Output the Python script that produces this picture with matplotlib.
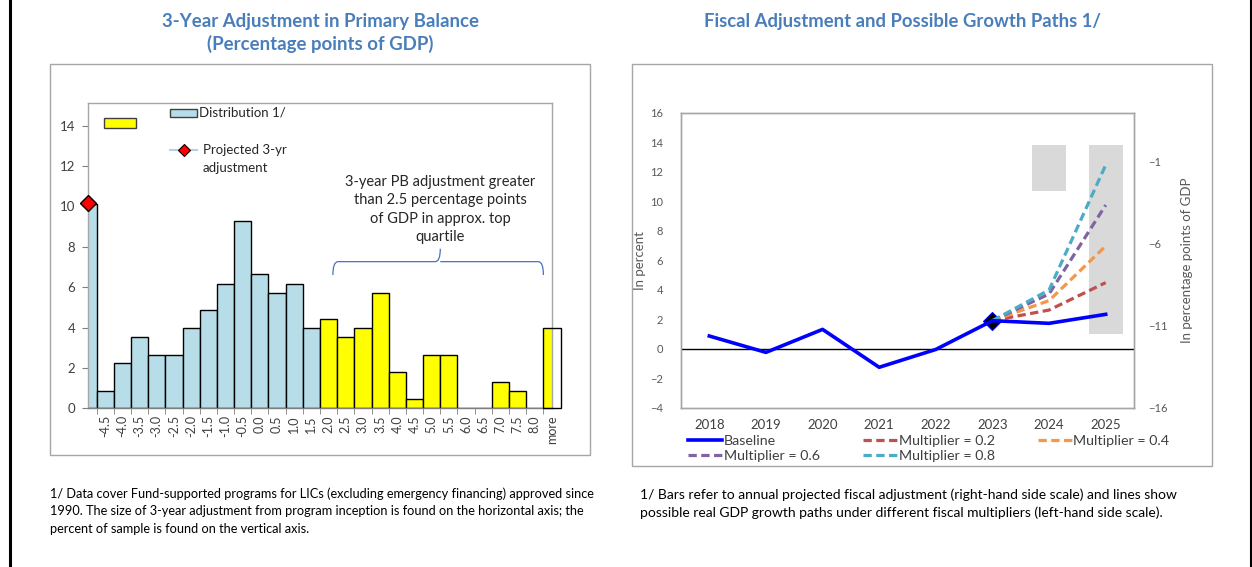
import matplotlib

matplotlib.use("Agg")

import matplotlib.pyplot as plt
import numpy as np
from matplotlib.lines import Line2D
from matplotlib.patches import PathPatch, Rectangle
from matplotlib.path import Path

W, H = 1252, 567
plt.rcParams["font.family"] = ["Lato", "DejaVu Sans"]

# ---- left panel: distribution of 3-year primary balance adjustments ----
BIN_LABELS = ["-5.0", "-4.5", "-4.0", "-3.5", "-3.0", "-2.5", "-2.0", "-1.5", "-1.0",
              "-0.5", "0.0", "0.5", "1.0", "1.5", "2.0", "2.5", "3.0", "3.5", "4.0",
              "4.5", "5.0", "5.5", "6.0", "6.5", "7.0", "7.5", "8.0", "more"]
DIST_LOW = [10.1, 0.87, 2.22, 3.51, 2.65, 2.65, 4.0, 4.86, 6.14, 9.25, 6.64, 5.72, 6.14, 4.0]
DIST_TOP = [4.43, 3.51, 4.0, 5.72, 1.78, 0.44, 2.65, 2.65, 0.0, 0.0, 1.30, 0.87, 0.0, 4.0]
PROJECTED_BIN = 0
PROJECTED_VALUE = 10.15

# ---- right panel: fiscal adjustment and growth paths ----
YEARS = ["2018", "2019", "2020", "2021", "2022", "2023", "2024", "2025"]
BASELINE = [0.86, -0.25, 1.31, -1.26, -0.05, 1.9, 1.72, 2.33]
PATH_YEARS = ["2023", "2024", "2025"]
MULT_02 = [1.9, 2.62, 4.48]
MULT_04 = [1.9, 3.26, 6.96]
MULT_06 = [1.9, 3.71, 9.74]
MULT_08 = [1.9, 3.98, 12.45]
ADJ_YEARS = ["2024", "2025"]
ADJUSTMENT = [-2.8, -11.5]

BLUE_TITLE = "#4A7EBB"
LIGHT_BLUE = "#B7DEE8"
YELLOW = "#FFFF00"
GRID_GREY = "#A6A6A6"
TEXT_GREY = "#404040"


def fx(x):
    return x / W


def fy(y):
    return 1.0 - y / H


def px_axes(fig, left, top, right, bottom):
    return fig.add_axes([fx(left), fy(bottom), (right - left) / W, (bottom - top) / H])


fig = plt.figure(figsize=(W / 100, H / 100), dpi=100)

# page borders and panel frames
fig.add_artist(Line2D([fx(10), fx(10)], [0, 1], color="black", lw=2.2))
fig.add_artist(Line2D([fx(1250.5), fx(1250.5)], [0, 1], color="black", lw=1.5))
fig.add_artist(Rectangle((fx(50), fy(455)), (590 - 50) / W, (455 - 64) / H,
                         transform=fig.transFigure, fill=False, ec=GRID_GREY, lw=1.0))
fig.add_artist(Rectangle((fx(632), fy(466)), (1212 - 632) / W, (466 - 64) / H,
                         transform=fig.transFigure, fill=False, ec=GRID_GREY, lw=1.0))

# titles
fig.text(fx(320), fy(21), "3-Year Adjustment in Primary Balance", ha="center", va="center",
         fontsize=13.4, fontweight="bold", color=BLUE_TITLE)
fig.text(fx(320), fy(44), "(Percentage points of GDP)", ha="center", va="center",
         fontsize=13.4, fontweight="bold", color=BLUE_TITLE)
fig.text(fx(903), fy(21), "Fiscal Adjustment and Possible Growth Paths 1/", ha="center",
         va="center", fontsize=13.3, fontweight="bold", color=BLUE_TITLE)

# ---------------- left panel ----------------
ax = px_axes(fig, 88, 103.3, 552, 408.3)
n_low = len(DIST_LOW)
x_low = np.arange(n_low)
x_top = np.arange(n_low, n_low + len(DIST_TOP))
bw = 1.0
ax.bar(x_low, DIST_LOW, width=bw, color=LIGHT_BLUE, edgecolor="black", lw=1.0, zorder=2)
ax.bar(x_top[:-1], DIST_TOP[:-1], width=bw, color=YELLOW, edgecolor="black", lw=1.0, zorder=2)
# the open-ended "more" bin sits on the right edge of the plot area
last_x, last_v = x_top[-1], DIST_TOP[-1]
ax.bar(last_x - bw / 4, last_v, width=bw / 2, color=YELLOW, lw=0, zorder=2, clip_on=False)
ax.bar(last_x + bw / 4, last_v, width=bw / 2, color="white", lw=0, zorder=2, clip_on=False)
ax.bar(last_x, last_v, width=bw, fill=False, edgecolor="black", lw=1.0, zorder=3, clip_on=False)
ax.plot([PROJECTED_BIN], [PROJECTED_VALUE], marker="D", ms=8, mfc="#FF0000", mec="black",
        mew=1.0, ls="none", zorder=5, clip_on=False)

ax.set_xlim(0, len(BIN_LABELS) - 1)
ax.set_ylim(0, 15.1)
ax.set_yticks(np.arange(0, 15, 2))
ax.set_xticks(np.arange(1, len(BIN_LABELS)))
ax.set_xticklabels(BIN_LABELS[1:], rotation=90, fontsize=9, color=TEXT_GREY)
ax.set_xticks(np.arange(0.5, len(BIN_LABELS) - 1, 1.0), minor=True)
ax.tick_params(axis="x", which="major", length=0, pad=5)
ax.tick_params(axis="x", which="minor", length=4, color="#7F7F7F")
ax.tick_params(axis="y", length=4, color="#7F7F7F", labelsize=9.5, labelcolor=TEXT_GREY, pad=5)
for s in ax.spines.values():
    s.set_color(GRID_GREY)
    s.set_linewidth(1.0)
ax.spines["bottom"].set_color("#7F7F7F")

# brace over the top-quartile bins
bx0, bx1, btip = 14.25, 26.5, 20.5
yb0, yb1, ytip = 6.6, 7.26, 7.9
r = 0.3
verts = [(bx0, yb0), (bx0, yb1), (bx0 + r, yb1),
         (btip - r, yb1), (btip, yb1), (btip, ytip),
         (btip, yb1), (btip + r, yb1),
         (bx1 - r, yb1), (bx1, yb1), (bx1, yb0)]
codes = [Path.MOVETO, Path.CURVE3, Path.CURVE3,
         Path.LINETO, Path.CURVE3, Path.CURVE3,
         Path.MOVETO, Path.CURVE3,
         Path.LINETO, Path.CURVE3, Path.CURVE3]
ax.add_patch(PathPatch(Path(verts, codes), fill=False, ec="#4472C4", lw=0.9, zorder=4))
ax.text(btip, 9.85, "3-year PB adjustment greater\nthan 2.5 percentage points\nof GDP in approx. top\nquartile",
        ha="center", va="center", fontsize=10.5, linespacing=1.4, color="#262626")

# legend keys
fig.add_artist(Rectangle((fx(104), fy(128)), 32 / W, 10 / H, transform=fig.transFigure,
                         fc=YELLOW, ec="#404040", lw=1.0))
fig.add_artist(Rectangle((fx(170), fy(117)), 27 / W, 8 / H, transform=fig.transFigure,
                         fc=LIGHT_BLUE, ec="#404040", lw=1.0))
fig.text(fx(199), fy(113), "Distribution 1/", va="center", fontsize=9.5, color="#262626")
fig.add_artist(Line2D([fx(170), fx(197)], [fy(150), fy(150)], color="#B9CDE5", lw=1.5))
fig.add_artist(Line2D([fx(183.5)], [fy(150)], marker="D", ms=6, mfc="#FF0000", mec="black",
                      mew=0.8, ls="none"))
fig.text(fx(203), fy(150), "Projected 3-yr", va="center", fontsize=9.5, color="#262626")
fig.text(fx(203), fy(168), "adjustment", va="center", fontsize=9.5, color="#262626")

# ---------------- right panel ----------------
axl = px_axes(fig, 681, 112.7, 1134, 407.7)
axr = axl.twinx()
axl.set_zorder(axr.get_zorder() + 1)
axl.patch.set_visible(False)

xi = {y: i for i, y in enumerate(YEARS)}
axr.bar([xi[y] for y in ADJ_YEARS], ADJUSTMENT, width=0.6, color="#D9D9D9", lw=0)
axr.set_ylim(-16, 2)
axr.set_yticks([-16, -11, -6, -1])
axr.tick_params(axis="y", length=0, labelsize=8, labelcolor="#595959", pad=10)
axr.set_ylabel("In percentage points of GDP", fontsize=9.5, color="#595959", labelpad=10)

axl.axhline(0, color="black", lw=1.0, zorder=1)
dash = (2.6, 1.4)
px = [xi[y] for y in PATH_YEARS]
l2, = axl.plot(px, MULT_02, color="#C0504D", lw=2.3, dashes=dash, zorder=3)
l4, = axl.plot(px, MULT_04, color="#F79646", lw=2.3, dashes=dash, zorder=3)
l6, = axl.plot(px, MULT_06, color="#8064A2", lw=2.3, dashes=dash, zorder=3)
l8, = axl.plot(px, MULT_08, color="#4BACC6", lw=2.3, dashes=dash, zorder=3)
lb, = axl.plot(range(len(YEARS)), BASELINE, color="#0000FF", lw=2.6, zorder=4)
axl.plot([xi["2023"]], [BASELINE[xi["2023"]]], marker="D", ms=9, mfc="black", mec="#0000FF",
         mew=0.8, ls="none", zorder=2)

axl.set_xlim(-0.5, len(YEARS) - 0.5)
axl.set_ylim(-4, 16)
axl.set_yticks(np.arange(-4, 17, 2))
axl.set_xticks(range(len(YEARS)))
axl.set_xticklabels(YEARS, fontsize=9.5, color="#404040")
axl.tick_params(axis="x", length=0, pad=8)
axl.tick_params(axis="y", length=0, labelsize=8, labelcolor="#595959", pad=13)
axl.set_ylabel("In percent", fontsize=9.5, color="#595959", labelpad=3)
for a in (axl, axr):
    for s in a.spines.values():
        s.set_color(GRID_GREY)
        s.set_linewidth(1.0)

handles = [lb, l6, l2, l8, l4]
labels = ["Baseline", "Multiplier = 0.6", "Multiplier = 0.2", "Multiplier = 0.8", "Multiplier = 0.4"]
fig.legend(handles, labels, loc="upper left", bbox_to_anchor=(fx(681), fy(428)), ncol=3,
           frameon=False, fontsize=10.3, handlelength=2.4, handletextpad=0.1,
           columnspacing=3.0, labelspacing=0.2, borderpad=0, labelcolor="#404040")

# footnotes
fig.text(fx(50), fy(487),
         "1/ Data cover Fund-supported programs for LICs (excluding emergency financing) approved since\n"
         "1990. The size of 3-year adjustment from program inception is found on the horizontal axis; the\n"
         "percent of sample is found on the vertical axis.",
         va="top", fontsize=9.2, linespacing=1.55, color="black")
fig.text(fx(640), fy(488),
         "1/ Bars refer to annual projected fiscal adjustment (right-hand side scale) and lines show\n"
         "possible real GDP growth paths under different fiscal multipliers (left-hand side scale).",
         va="top", fontsize=10, linespacing=1.6, color="black")

fig.savefig("out.png", dpi=100)
